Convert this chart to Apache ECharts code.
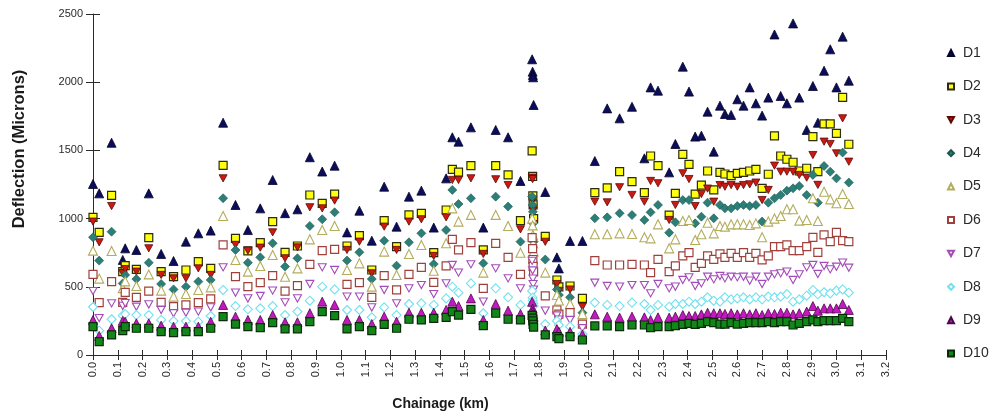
<!DOCTYPE html>
<html>
<head>
<meta charset="utf-8">
<script src="https://cdn.jsdelivr.net/npm/echarts@6/dist/echarts.min.js"></script>
<style>
  html, body { margin: 0; padding: 0; background: #ffffff; }
  #chart { width: 992px; height: 418px; }
</style>
</head>
<body>
<div id="chart"></div>
<script>
// Chainage of each test point (km)
const chainage = [
  0.000, 0.025, 0.075, 0.120, 0.130, 0.175, 0.225, 0.275, 0.325, 0.375, 0.425, 0.475, 0.525, 0.575, 0.625, 0.675, 0.725, 0.775, 0.825, 0.875, 0.925,
  0.975, 1.025, 1.075, 1.125, 1.175, 1.225, 1.275, 1.325, 1.375, 1.425, 1.450, 1.475, 1.525, 1.575, 1.625, 1.675, 1.725, 1.772, 1.774, 1.775, 1.776, 1.778, 1.825, 1.872, 1.880, 1.925, 1.975,
  2.025, 2.075, 2.125, 2.175, 2.225, 2.250, 2.280, 2.325, 2.350, 2.380, 2.405, 2.430, 2.455, 2.480, 2.505, 2.530, 2.550, 2.575, 2.600, 2.625, 2.650, 2.675, 2.700, 2.725, 2.750, 2.775, 2.800, 2.825, 2.850, 2.880, 2.905, 2.925, 2.950, 2.975, 3.000, 3.025, 3.050
];

// Deflection at each geophone (microns)
const D1 = [
  1254, 1185, 1556, 697, 782, 770, 1185, 741, 689, 831, 892, 912, 1703, 1100, 916, 1075, 1283, 1040, 1068, 1450, 1345,
  1388, 899, 1058, 838, 1234, 941, 1161, 1205, 934, 1295, 1596, 1564, 1669, 934, 1650, 1596, 1276, 2168, 2077, 2053, 2036, 1833, 1195, 716, 635, 836, 836,
  1422, 1808, 1735, 1820, 1442, 1962, 1938, 1339, 1547, 2114, 1931, 1601, 1608, 1784, 1491, 1828, 1767, 1760, 1875, 1828, 1962, 1845, 1755, 1887, 2350, 1899, 1845, 2431, 1887, 1650, 1972, 1703, 2084, 2241, 1962, 2334, 2011
];
const D2 = [
  1009, 899, 1171, 611, 655, 628, 860, 611, 574, 623, 684, 635, 1390, 855, 763, 824, 978, 753, 799, 1173, 1112,
  1180, 799, 875, 623, 985, 794, 1027, 1039, 750, 1063, 1361, 1340, 1388, 770, 1388, 1320, 985, 1496, 1310, 1166, 1100, 1000, 870, 550, 500, 506, 415,
  1190, 1225, 1344, 1271, 1190, 1459, 1388, 1026, 1185, 1471, 1398, 1180, 1246, 1349, 1210, 1339, 1327, 1315, 1332, 1339, 1349, 1361, 1222, 1325, 1606, 1459, 1435, 1413, 1349, 1369, 1601, 1344, 1694, 1694, 1625, 1889, 1545
];
const D3 = [
  978, 826, 1092, 600, 630, 611, 782, 587, 562, 562, 635, 587, 1295, 807, 765, 787, 899, 709, 789, 1083, 1075,
  1132, 770, 831, 599, 941, 770, 978, 995, 726, 1009, 1283, 1283, 1295, 741, 1288, 1246, 921, 1300, 1290, 1137, 1060, 960, 830, 520, 470, 480, 354,
  1124, 1119, 1230, 1173, 1124, 1276, 1259, 990, 1100, 1332, 1290, 1092, 1180, 1220, 1124, 1246, 1234, 1246, 1234, 1246, 1251, 1264, 1136, 1210, 1388, 1344, 1344, 1344, 1320, 1300, 1466, 1247, 1564, 1547, 1478, 1735, 1417
];
const D4 = [
  863, 692, 904, 525, 587, 557, 677, 521, 481, 501, 538, 550, 1149, 770, 677, 716, 819, 648, 709, 946, 995,
  1046, 692, 753, 557, 838, 655, 826, 892, 667, 916, 1210, 1107, 1149, 672, 1161, 1088, 831, 1161, 1100, 1050, 965, 831, 700, 480, 440, 423, 310,
  1002, 1009, 1039, 1026, 990, 1046, 1100, 897, 973, 1136, 1136, 965, 1014, 1117, 1002, 1100, 1075, 1075, 1092, 1100, 1092, 1100, 978, 1117, 1149, 1173, 1205, 1222, 1239, 1173, 1320, 1117, 1386, 1344, 1295, 1484, 1264
];
const D5 = [
  765, 560, 763, 490, 540, 506, 591, 472, 428, 447, 477, 496, 1019, 697, 611, 653, 733, 574, 635, 848, 916,
  946, 623, 672, 501, 758, 587, 741, 807, 618, 819, 1075, 978, 1027, 604, 1027, 946, 750, 1000, 950, 880, 820, 760, 604, 440, 400, 374, 300,
  885, 885, 892, 887, 863, 855, 958, 782, 848, 982, 990, 843, 885, 970, 892, 946, 941, 958, 958, 958, 953, 965, 863, 978, 1000, 1019, 1068, 1068, 985, 990, 1149, 982, 1197, 1141, 1112, 1180, 1107
];
const D6 = [
  591, 384, 538, 386, 459, 423, 469, 386, 354, 367, 384, 411, 807, 574, 501, 530, 582, 469, 508, 665, 765,
  775, 518, 530, 423, 582, 477, 591, 643, 533, 653, 848, 770, 824, 489, 819, 716, 591, 860, 780, 700, 650, 610, 433, 330, 300, 310, 227,
  692, 660, 660, 665, 660, 604, 701, 611, 653, 726, 750, 643, 672, 726, 701, 741, 716, 745, 716, 750, 716, 745, 697, 726, 794, 794, 807, 765, 765, 794, 862, 753, 880, 831, 899, 838, 831
];
const D7 = [
  469, 271, 379, 360, 380, 354, 371, 330, 306, 310, 318, 349, 643, 457, 415, 433, 472, 386, 415, 521, 643,
  623, 428, 428, 349, 477, 379, 489, 513, 447, 525, 660, 604, 665, 391, 635, 562, 489, 690, 620, 560, 520, 480, 325, 290, 260, 257, 196,
  530, 506, 501, 513, 513, 452, 521, 489, 501, 550, 569, 506, 525, 574, 555, 579, 562, 574, 569, 574, 545, 574, 521, 574, 591, 599, 611, 550, 591, 643, 660, 594, 653, 628, 647, 677, 640
];
const D8 = [
  352, 178, 262, 290, 300, 293, 293, 257, 249, 249, 244, 286, 477, 359, 335, 342, 359, 293, 318, 398, 501,
  481, 330, 330, 276, 349, 293, 374, 379, 367, 415, 501, 457, 525, 306, 489, 423, 367, 470, 420, 400, 380, 360, 227, 250, 220, 208, 154,
  384, 367, 359, 384, 374, 330, 367, 354, 374, 374, 391, 374, 391, 423, 398, 391, 423, 408, 415, 423, 408, 423, 408, 428, 423, 428, 447, 391, 408, 435, 477, 445, 460, 452, 472, 481, 457
];
const D9 = [
  257, 140, 196, 250, 244, 232, 232, 215, 208, 208, 208, 244, 367, 281, 257, 257, 293, 240, 240, 306, 391,
  367, 257, 257, 227, 281, 244, 310, 310, 310, 330, 391, 359, 415, 257, 374, 325, 301, 390, 340, 320, 300, 280, 180, 190, 170, 170, 150,
  298, 281, 274, 281, 276, 257, 276, 274, 281, 293, 286, 286, 298, 310, 306, 306, 301, 306, 298, 306, 298, 306, 293, 306, 301, 310, 310, 298, 306, 318, 359, 325, 342, 342, 342, 374, 330
];
const D10 = [
  208, 98, 147, 178, 208, 196, 196, 171, 164, 171, 171, 196, 281, 227, 208, 200, 237, 191, 191, 244, 318,
  288, 191, 208, 178, 225, 196, 262, 257, 269, 276, 318, 293, 335, 215, 306, 262, 257, 290, 270, 250, 225, 205, 147, 135, 120, 134, 110,
  213, 213, 208, 220, 220, 200, 208, 208, 215, 225, 232, 225, 232, 244, 237, 227, 227, 237, 227, 232, 237, 237, 237, 244, 237, 244, 244, 220, 232, 244, 257, 244, 252, 252, 252, 269, 244
];

const seriesNames = ['D1', 'D2', 'D3', 'D4', 'D5', 'D6', 'D7', 'D8', 'D9', 'D10'];
const seriesValues = [D1, D2, D3, D4, D5, D6, D7, D8, D9, D10];
const xTickLabels = [0, 3.2, 0.1];   // min, max, step of the chainage axis
const yTickLabels = [0, 2500, 500];  // min, max, step of the deflection axis

const UP = 'triangle';
const DOWN = 'path://M0,0 L20,0 L10,18 Z';
const SQ = 'rect';
const DIA = 'diamond';

// Marker look for each geophone
const markers = [
  { symbol: UP,   size: 9, fill: '#0c0c5c', stroke: '#05052a', bw: 0.8 },
  { symbol: SQ,   size: 8, fill: '#ffff10', stroke: '#2b2b10', bw: 1.2 },
  { symbol: DOWN, size: 8, fill: '#cc1a12', stroke: '#5a0a08', bw: 0.8 },
  { symbol: DIA,  size: 9, fill: '#2c7f76', stroke: '#1d5550', bw: 0.6 },
  { symbol: UP,   size: 9, fill: '#ffffff', stroke: '#b3ad5c', bw: 1.1 },
  { symbol: SQ,   size: 8, fill: '#ffffff', stroke: '#a0403c', bw: 1.2 },
  { symbol: DOWN, size: 8, fill: '#ffffff', stroke: '#a34bb8', bw: 1.1 },
  { symbol: DIA,  size: 9, fill: '#ffffff', stroke: '#72e2ee', bw: 1.1 },
  { symbol: UP,   size: 9, fill: '#c418c0', stroke: '#4a0848', bw: 0.8 },
  { symbol: SQ,   size: 8, fill: '#13861a', stroke: '#0a2a0a', bw: 1.2 }
];

const FONT = '"Liberation Sans", Arial, sans-serif';

const series = seriesNames.map((name, i) => ({
  name,
  type: 'scatter',
  xAxisIndex: 0,
  yAxisIndex: 0,
  symbol: markers[i].symbol,
  symbolSize: markers[i].size,
  symbolKeepAspect: true,
  clip: false,
  itemStyle: {
    color: markers[i].fill,
    borderColor: markers[i].stroke,
    borderWidth: markers[i].bw,
    opacity: 1
  },
  emphasis: { disabled: true },
  data: chainage.map((c, k) => [c, seriesValues[i][k]])
}));

const axisLine = { show: true, lineStyle: { color: '#2a2a2a', width: 1 } };

const option = {
  animation: false,
  backgroundColor: '#ffffff',
  grid: { left: 93, right: 106, top: 14, bottom: 63, containLabel: false },
  xAxis: [
    {
      type: 'value', min: xTickLabels[0], max: xTickLabels[1], interval: xTickLabels[2],
      position: 'bottom',
      axisLine,
      axisTick: { show: true, inside: false, length: 5, lineStyle: { color: '#2a2a2a' } },
      axisLabel: {
        rotate: 90, margin: 7, color: '#2a2a2a', fontSize: 11, fontFamily: FONT,
        formatter: v => v.toFixed(1)
      },
      splitLine: { show: false }
    },
    {
      type: 'value', min: xTickLabels[0], max: xTickLabels[1], interval: xTickLabels[2],
      position: 'bottom',
      axisLine: { show: false },
      axisTick: { show: true, inside: true, length: 5, lineStyle: { color: '#2a2a2a' } },
      axisLabel: { show: false },
      splitLine: { show: false }
    }
  ],
  yAxis: [
    {
      type: 'value', min: yTickLabels[0], max: yTickLabels[1], interval: yTickLabels[2],
      position: 'left',
      axisLine,
      axisTick: { show: true, inside: false, length: 7, lineStyle: { color: '#2a2a2a' } },
      axisLabel: { margin: 10, color: '#2a2a2a', fontSize: 11, fontFamily: FONT, formatter: v => String(v) },
      splitLine: { show: false }
    },
    {
      type: 'value', min: yTickLabels[0], max: yTickLabels[1], interval: yTickLabels[2],
      position: 'left',
      axisLine: { show: false },
      axisTick: { show: true, inside: true, length: 7, lineStyle: { color: '#2a2a2a' } },
      axisLabel: { show: false },
      splitLine: { show: false }
    }
  ],
  legend: {
    orient: 'vertical',
    left: 942,
    top: 40,
    itemWidth: 6,
    itemHeight: 6,
    itemGap: 17.4,
    selectedMode: false,
    textStyle: { color: '#2a2a2a', fontSize: 14, fontFamily: FONT, lineHeight: 16, padding: [0, 0, 0, 4] },
    data: seriesNames
  },
  graphic: [
    {
      type: 'text', x: 19.5, y: 149, rotation: Math.PI / 2,
      style: {
        text: 'Deflection (Microns)', fill: '#1a1a1a',
        font: 'bold 16.5px ' + FONT, textAlign: 'center', textVerticalAlign: 'middle'
      }
    },
    {
      type: 'text', x: 440.5, y: 404,
      style: {
        text: 'Chainage (km)', fill: '#1a1a1a',
        font: 'bold 14px ' + FONT,
        textAlign: 'center', textVerticalAlign: 'middle'
      }
    }
  ],
  series
};

const chart = echarts.init(document.getElementById('chart'), null, { renderer: 'canvas' });
chart.setOption(option);
</script>
</body>
</html>
